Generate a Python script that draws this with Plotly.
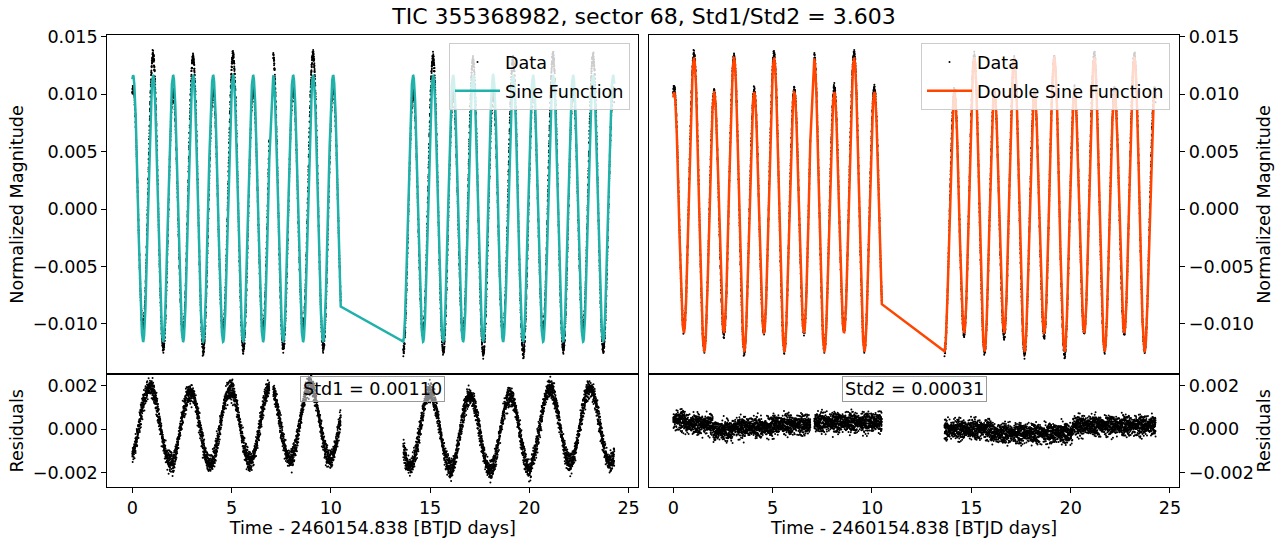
import numpy as np
import plotly.graph_objects as go

# ---------------- data ----------------
# observation segments (days, relative to BTJD 2460154.838)
SEGMENT_STARTS = [0.00, 7.10, 13.65]
SEGMENT_ENDS = [6.90, 10.50, 24.28]
CADENCE_MIN = 5.0

# main sine (single-sine fit)
SINE_PERIOD = 1.0075
SINE_AMP = 0.0116
SINE_PEAK_T = 0.04
SINE_MEAN = 0.00005

# second sine (period-doubled term of the double-sine fit)
SUB_AMP = 0.0017
SUB_PEAK_T = 0.89

# slow baseline level of the residuals (step levels)
BASELINE_STARTS = [0.0, 0.6, 2.0, 3.0, 5.0, 7.0, 13.0, 16.0, 20.1]
BASELINE_LEVELS = [0.00040, 0.00022, -0.00008, 0.00008, 0.00020, 0.00030, -0.00002, -0.00020, 0.00015]

# scatter texture of the photometry (in units of NOISE_SCALE)
NOISE_PATTERN_A = [0.3, -0.8, 1.1, -0.2, 0.6, -1.3, 0.1, 0.9, -0.5, 1.6,
                   -1.0, 0.4, -0.1, 0.7, -1.7, 0.2, -0.6, 1.2, -0.3]
NOISE_PATTERN_B = [-0.4, 0.9, -1.2, 0.2, 0.5, -0.7, 1.4, -0.1, 0.8, -1.5, 0.3,
                   -0.2, 1.0, -0.9, 0.6, -0.3, 0.1, -1.1, 1.7, -0.6, 0.4, -0.8, 0.2]
NOISE_PATTERN_C = [0.5, -0.2, -0.9, 1.3, -0.4, 0.1, 0.8, -1.4, 0.2, -0.6, 1.1, -0.1, 0.4]
NOISE_SCALE = 0.00021

X_TICKS = [0, 5, 10, 15, 20, 25]
Y_TICKS_TOP = [-0.010, -0.005, 0.000, 0.005, 0.010, 0.015]
Y_TICKS_RES = [-0.002, 0.000, 0.002]

TITLE = "TIC 355368982, sector 68, Std1/Std2 = 3.603"
STD1_TEXT = "Std1 = 0.00110"
STD2_TEXT = "Std2 = 0.00031"
X_LABEL = "Time - 2460154.838 [BTJD days]"

# ---------------- build series ----------------
cad = CADENCE_MIN / 1440.0
t = np.concatenate([np.arange(s, e, cad) for s, e in zip(SEGMENT_STARTS, SEGMENT_ENDS)])
n = t.size
idx = np.arange(n)
na = np.array(NOISE_PATTERN_A)
nb = np.array(NOISE_PATTERN_B)
nc = np.array(NOISE_PATTERN_C)
noise = (na[idx % na.size] + 0.6 * nb[idx % nb.size] + 0.5 * nc[idx % nc.size]) * NOISE_SCALE
base = np.array(BASELINE_LEVELS)[np.searchsorted(BASELINE_STARTS, t, side="right") - 1]

sine_fit = SINE_MEAN + SINE_AMP * np.cos(2 * np.pi * (t - SINE_PEAK_T) / SINE_PERIOD)
sub = SUB_AMP * np.cos(2 * np.pi * (t - SUB_PEAK_T) / (2 * SINE_PERIOD))
double_fit = sine_fit + sub
data = double_fit + base + noise
res1 = data - sine_fit
res2 = data - double_fit

# ---------------- figure ----------------
# page body margin is removed (see post_script), so figure pixels == window pixels
W, H = 1288, 543


def px(x):
    return x / W


def py(y):
    return 1 - y / H


XL = [px(107.3), px(638.3)]
XR = [px(649.0), px(1179.3)]
YT = [py(374.3), py(34.7)]
YB = [py(487.3), py(374.3)]

FONT = "DejaVu Sans"
TEAL = "#20B2AA"
ORANGE = "#FF4500"
FS = 17.6

fig = go.Figure()
mk = dict(color="black", size=2)
fig.add_trace(go.Scatter(x=t, y=data, mode="markers", marker=mk, name="Data",
                         xaxis="x", yaxis="y", legend="legend", legendgroup="a"))
fig.add_trace(go.Scatter(x=t, y=sine_fit, mode="lines", line=dict(color=TEAL, width=2.5),
                         name="Sine Function", xaxis="x", yaxis="y", legend="legend", legendgroup="b"))
fig.add_trace(go.Scatter(x=t, y=res1, mode="markers", marker=mk, showlegend=False,
                         xaxis="x2", yaxis="y2"))
fig.add_trace(go.Scatter(x=t, y=data, mode="markers", marker=mk, name="Data",
                         xaxis="x3", yaxis="y3", legend="legend2", legendgroup="c"))
fig.add_trace(go.Scatter(x=t, y=double_fit, mode="lines", line=dict(color=ORANGE, width=2.5),
                         name="Double Sine Function", xaxis="x3", yaxis="y3", legend="legend2",
                         legendgroup="d"))
fig.add_trace(go.Scatter(x=t, y=res2, mode="markers", marker=mk, showlegend=False,
                         xaxis="x4", yaxis="y4"))

common = dict(showline=True, mirror=True, linecolor="black", linewidth=1,
              showgrid=False, zeroline=False, ticks="outside", ticklen=5,
              tickwidth=1, tickcolor="black", automargin=False,
              tickfont=dict(size=FS, color="black", family=FONT))
xr_l = [-1.26, 25.49]
xr_r = [-1.22, 25.47]
yr_t = [-0.01438, 0.01517]
yr_b = [-0.00267, 0.00252]
lab_font = dict(size=FS, color="black", family=FONT)
xtitle = dict(text=X_LABEL, font=lab_font, standoff=1)
leg_common = dict(xanchor="right", yanchor="top", bgcolor="rgba(255,255,255,0.8)",
                  bordercolor="#cccccc", borderwidth=1, tracegroupgap=3, itemwidth=45,
                  font=dict(size=FS, color="black", family=FONT))

fig.update_layout(
    width=W, height=H, margin=dict(l=0, r=0, t=0, b=0),
    template="none", paper_bgcolor="white", plot_bgcolor="white",
    font=dict(family=FONT, color="black"),
    title=dict(text=TITLE, x=0.5, xanchor="center", y=py(16.5), yanchor="middle",
               font=dict(size=22, color="black", family=FONT)),
    xaxis=dict(common, domain=XL, anchor="y", range=xr_l, tickvals=X_TICKS,
               showticklabels=False, ticks=""),
    xaxis2=dict(common, domain=XL, anchor="y2", range=xr_l, tickvals=X_TICKS, title=xtitle),
    xaxis3=dict(common, domain=XR, anchor="y3", range=xr_r, tickvals=X_TICKS,
                showticklabels=False, ticks=""),
    xaxis4=dict(common, domain=XR, anchor="y4", range=xr_r, tickvals=X_TICKS, title=xtitle),
    yaxis=dict(common, domain=YT, anchor="x", range=yr_t, tickvals=Y_TICKS_TOP, tickformat=".3f",
               title=dict(text="Normalized Magnitude", font=lab_font, standoff=4)),
    yaxis2=dict(common, domain=YB, anchor="x2", range=yr_b, tickvals=Y_TICKS_RES, tickformat=".3f",
                title=dict(text="Residuals", font=lab_font, standoff=4)),
    yaxis3=dict(common, domain=YT, anchor="x3", range=yr_t, tickvals=Y_TICKS_TOP, tickformat=".3f",
                side="right", title=dict(text="Normalized Magnitude", font=lab_font, standoff=0)),
    yaxis4=dict(common, domain=YB, anchor="x4", range=yr_b, tickvals=Y_TICKS_RES, tickformat=".3f",
                side="right", title=dict(text="Residuals", font=lab_font, standoff=0)),
    legend=dict(leg_common, x=px(630), y=py(43)),
    legend2=dict(leg_common, x=px(1170), y=py(43)),
    annotations=[
        dict(text=STD1_TEXT, x=(XL[0] + XL[1]) / 2, y=YB[1] - 2 / H, xref="paper", yref="paper",
             xanchor="center", yanchor="top", showarrow=False,
             font=dict(size=FS, color="black", family=FONT),
             bgcolor="rgba(255,255,255,0.5)", bordercolor="#999999", borderwidth=1, borderpad=2),
        dict(text=STD2_TEXT, x=(XR[0] + XR[1]) / 2, y=YB[1] - 2 / H, xref="paper", yref="paper",
             xanchor="center", yanchor="top", showarrow=False,
             font=dict(size=FS, color="black", family=FONT),
             bgcolor="rgba(255,255,255,0.5)", bordercolor="#999999", borderwidth=1, borderpad=2),
    ],
)

fig.write_html("out.html", config={"displayModeBar": False},
               post_script="document.body.style.margin='0';document.body.style.overflow='hidden';")
